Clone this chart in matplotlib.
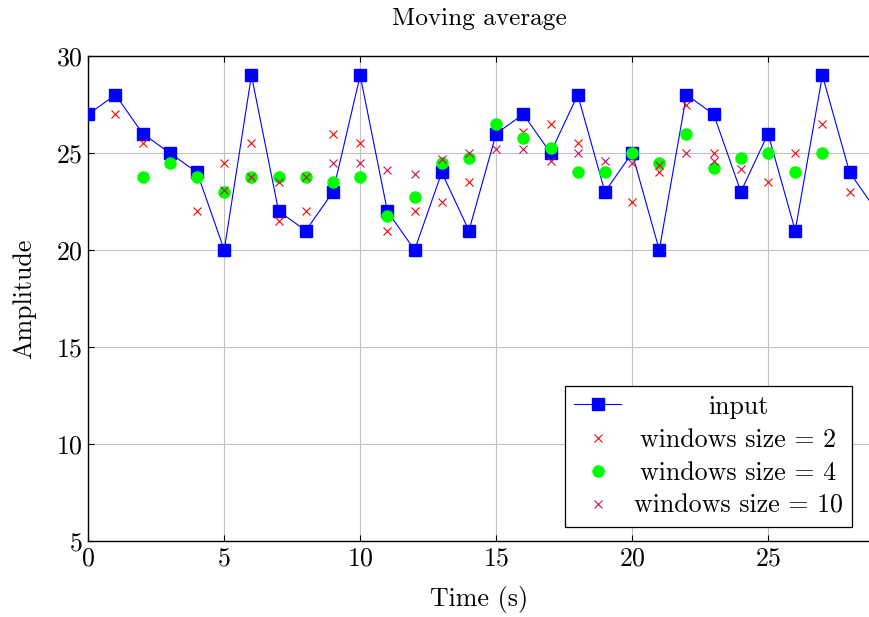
import matplotlib
matplotlib.use('Agg')
import matplotlib.pyplot as plt
from matplotlib.transforms import Affine2D

plt.rcParams['font.family'] = 'serif'
plt.rcParams['font.serif'] = ['cmr10', 'DejaVu Serif']
plt.rcParams['mathtext.fontset'] = 'cm'
plt.rcParams['axes.formatter.use_mathtext'] = True

# Datos
t_input = list(range(30))
input_vals = [27, 28, 26, 25, 24, 20, 29, 22, 21, 23, 29, 22, 20, 24, 21,
              26, 27, 25, 28, 23, 25, 20, 28, 27, 23, 26, 21, 29, 24, 22]

t_w2 = list(range(1, 29))
w2_vals = [27.0, 25.5, 24.5, 22.0, 24.5, 25.5, 21.5, 22.0, 26.0, 25.5,
           21.0, 22.0, 22.5, 23.5, 26.5, 26.1, 26.5, 25.5, 24.0, 22.5,
           24.0, 27.5, 25.0, 24.75, 23.5, 25.0, 26.5, 23.0]

t_w4 = list(range(2, 28))
w4_vals = [23.75, 24.5, 23.75, 23.0, 23.75, 23.75, 23.75, 23.5, 23.75, 21.75,
           22.75, 24.5, 24.75, 26.5, 25.75, 25.25, 24.0, 24.0, 25.0, 24.5,
           26.0, 24.25, 24.75, 25.0, 24.0, 25.0]

t_w10 = list(range(5, 25))
w10_vals = [23.1, 23.75, 23.5, 23.75, 24.5, 24.5, 24.1, 23.9, 24.7, 25.0,
            25.2, 25.2, 24.6, 25.0, 24.6, 24.5, 24.4, 25.0, 24.6, 24.2]

labels = ['input', 'windows size = 2', 'windows size = 4', 'windows size = 10']

FS = 18.7

fig = plt.figure(figsize=(8.7, 6.17), dpi=100)
ax = fig.add_axes([0.1015, 0.1232, 0.8985, 0.7860])

ax.plot(t_input, input_vals, color='#0000ff', lw=0.8, marker='s', ms=8,
        label=labels[0], zorder=3)
ax.plot(t_w2, w2_vals, ls='none', marker='x', ms=6, mew=0.8,
        color='#ff0000', label=labels[1], zorder=4)
ax.plot(t_w4, w4_vals, ls='none', marker='o', ms=8, color='#00ff00',
        label=labels[2], zorder=5)
ax.plot(t_w10, w10_vals, ls='none', marker='x', ms=6, mew=0.8,
        color='#cc0f45', label=labels[3], zorder=6)

ax.set_xlim(0, 28.75)
ax.set_ylim(5, 30)
ax.set_xticks([0, 5, 10, 15, 20, 25])
ax.set_yticks([5, 10, 15, 20, 25, 30])
ax.grid(True, color='#c0c0c0', lw=0.8)
ax.set_axisbelow(True)
ax.tick_params(direction='in', top=True, right=False, labelsize=FS,
               length=4, width=0.8, pad=4)
ax.spines['right'].set_visible(False)
for s in ['left', 'bottom', 'top']:
    ax.spines[s].set_linewidth(1.0)

ax.set_title('Moving average', fontsize=FS - 0.5, pad=22)
ax.set_xlabel('Time (s)', fontsize=FS, labelpad=11)
ax.set_ylabel('Amplitude', fontsize=FS, labelpad=14)

leg = ax.legend(loc='lower right', bbox_to_anchor=(0.977, 0.029), fontsize=FS,
                fancybox=False, edgecolor='black', framealpha=1,
                handlelength=1.8, handletextpad=0.5, labelspacing=0.36,
                borderpad=0.35, borderaxespad=0)
leg.get_frame().set_linewidth(0.9)

# centrar los textos de la leyenda como en pgfplots
fig.canvas.draw()
r = fig.canvas.get_renderer()
ws = [tx.get_window_extent(r).width for tx in leg.get_texts()]
for tx, w in zip(leg.get_texts(), ws):
    tx.set_transform(tx.get_transform() + Affine2D().translate((max(ws) - w) / 2, 0))

fig.savefig('out.png', dpi=100)
